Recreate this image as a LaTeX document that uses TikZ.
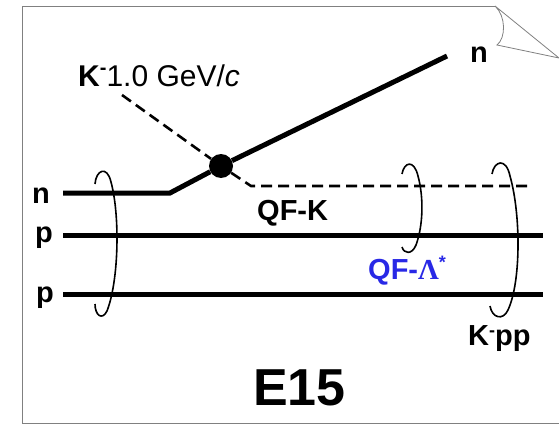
\documentclass[tikz,border=0pt]{standalone}
\usepackage{fontspec}
\setmainfont{Liberation Sans}
\newfontfamily\greekfont{Liberation Serif}
\usepackage{xcolor}
\definecolor{lamblue}{RGB}{40,40,230}

\tikzset{
  track/.style={line width=5pt},
  ktrack/.style={line width=2.6pt, dash pattern=on 11pt off 6pt},
  ring/.style={line width=1.6pt},
  framepen/.style={gray, line width=0.8pt},
  lbl/.style={inner sep=0pt, anchor=base west, font=\bfseries\fontsize{29}{29}\selectfont},
  smalllbl/.style={inner sep=0pt, anchor=base west, font=\fontsize{30}{30}\selectfont}
}

\begin{document}
\begin{tikzpicture}[x=1pt, y=-1pt]
    \useasboundingbox (0,0) rectangle (559,425);

    % Draw the frame with the folded corner
    \draw[framepen] (22,423) -- (22,6) -- (495,6);
    \draw[framepen] (22,423) -- (570,423);
    \draw[framepen] (495,6) .. controls (506,16) and (506,38) .. (497,45) -- (559,58) -- cycle;

    % Points of the tracks
    \coordinate (nin) at (63,193);
    \coordinate (kink) at (170,193);
    \coordinate (nout) at (447,56);
    \coordinate (kin) at (122,95);
    \coordinate (kbend) at (251,186);
    \coordinate (kend) at (527,186);
    \coordinate (pa) at (63,235);
    \coordinate (pb) at (543,235);
    \coordinate (qa) at (63,294);
    \coordinate (qb) at (543,294);

    % Reaction vertex
    \node[circle, fill, minimum size=24pt, inner sep=0pt] (vtx) at (221,166) {};

    % Draw the tracks
    \draw[track] (nin) -- (kink) -- (vtx) -- (nout);
    \draw[track] (pa) -- (pb);
    \draw[track] (qa) -- (qb);
    \draw[ktrack] (kin) -- (vtx);
    \draw[ktrack] (vtx) -- (kbend) -- (kend);

    % Draw the rings
    \draw[ring] (95,184) .. controls (96,170) and (107,165) .. (111,182)
        .. controls (120,215) and (119,280) .. (107,311)
        .. controls (102,321) and (95,315) .. (95,304);
    \draw[ring] (402,174) .. controls (404,162) and (414,159) .. (418,176)
        .. controls (424,198) and (423,226) .. (416,245)
        .. controls (412,255) and (404,254) .. (402,247);
    \draw[ring] (492,174) .. controls (494,161) and (506,157) .. (510,176)
        .. controls (521,215) and (521,282) .. (508,310)
        .. controls (503,321) and (492,318) .. (490,306);

    % Add the text
    \node[lbl] (labn) at (32,203) {n};
    \node[lbl] (labpa) at (35,242) {p};
    \node[lbl] (labpb) at (36,302) {p};
    \node[lbl] (labnout) at (470,63) {n};
    \node[smalllbl] (labk) at (78,87) {\textbf{K}\raisebox{0.42em}{\textbf{\fontsize{20}{20}\selectfont -}}1.0 GeV/\textit{c}};
    \node[lbl] (labqfk) at (257,220) {QF-K};
    \node[lbl, text=lamblue] (labqfl) at (368,279) {QF-{\greekfont Λ}\raisebox{0.35em}{\fontsize{18}{18}\selectfont *}};
    \node[lbl] (labkpp) at (468,345) {K\raisebox{0.3em}{\fontsize{18}{18}\selectfont -}pp};
    \node[lbl, font=\bfseries\fontsize{52}{52}\selectfont] (labe) at (253,405) {E15};
\end{tikzpicture}
\end{document}
